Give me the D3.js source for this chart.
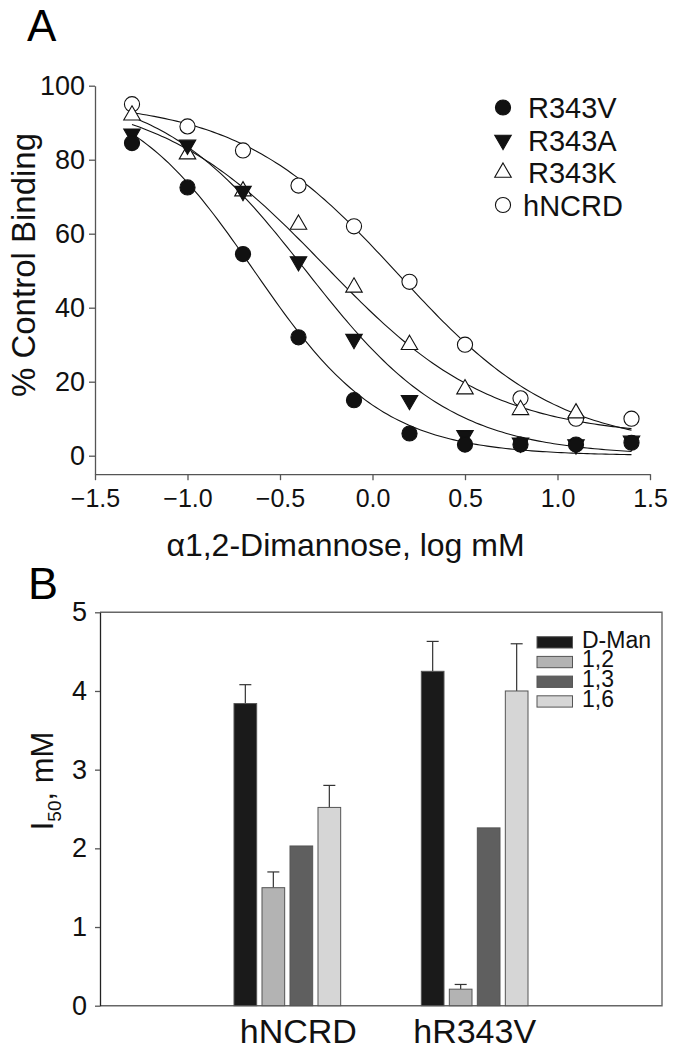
<!DOCTYPE html>
<html>
<head>
<meta charset="utf-8">
<script src="https://cdn.jsdelivr.net/npm/d3@7"></script>
<style>
  body { margin: 0; background: #fff; }
  svg { display: block; font-family: "Liberation Sans", Arial, sans-serif; }
</style>
</head>
<body>
<svg id="chart" width="678" height="1050"></svg>
<script>
// panel A: % control binding vs alpha1,2-dimannose (log mM)
const doseLog = [-1.3, -1.0, -0.7, -0.4, -0.1, 0.2, 0.5, 0.8, 1.1, 1.4]
const bindR343V = [84.5, 72.5, 54.5, 32, 15, 6, 3, 3, 3, 3.5]
const bindR343A = [87, 84, 71.5, 52.5, 31.5, 15, 5.5, 3.5, 3, 4]
const bindR343K = [92, 81.5, 71.5, 62.5, 45.5, 30, 18, 12.4, 11.5, null]
const bindHNCRD = [95, 89, 82.5, 73, 62, 47, 30, 15.5, 10, 10]
const seriesNames = ["R343V", "R343A", "R343K", "hNCRD"]

// fitted curves as drawn in the figure: top, bottom, log IC50, hill slope
const fitTop = [100, 100, 98, 96]
const fitBottom = [0, 0, 5, 2]
const fitLogIC50 = [-0.64, -0.36, -0.26, 0.14]
const fitHill = [1.25, 1.1, 0.96, 1.0]

const xTicksA = [-1.5, -1.0, -0.5, 0, 0.5, 1.0, 1.5]
const yTicksA = [0, 20, 40, 60, 80, 100]

// panel B: I50 (mM) per construct and sugar
const constructs = ["hNCRD", "hR343V"]
const sugars = ["D-Man", "1,2", "1,3", "1,6"]
const i50HNCRD = [3.84, 1.50, 2.03, 2.52]
const i50HR343V = [4.25, 0.21, 2.26, 4.00]
const errHNCRD = [0.24, 0.20, 0, 0.28]
const errHR343V = [0.38, 0.06, 0, 0.60]
const sugarColors = ["#1a1a1a", "#b3b3b3", "#5f5f5f", "#d6d6d6"]
const yTicksB = [0, 1, 2, 3, 4, 5]

const svg = d3.select("#chart")
const FONT = "\"Liberation Sans\", Arial, sans-serif"

function styleAxis (g, size) {
  g.attr("font-size", size).attr("font-family", FONT)
  g.selectAll("path, line").attr("stroke", "#555").attr("stroke-width", 1.3)
  g.selectAll("text").attr("fill", "#111")
}

function drawPanelA () {
  const x = d3.scaleLinear().domain([-1.5, 1.5]).range([95, 650])
  const y = d3.scaleLinear().domain([-5, 100]).range([474.2, 85.7])

  svg.append("text")
    .attr("x", 27).attr("y", 41)
    .attr("font-size", 44)
    .text("A")

  const xAxis = svg.append("g")
    .attr("transform", `translate(0,${y(-5)})`)
    .call(d3.axisBottom(x).tickValues(xTicksA).tickFormat(d3.format(".1f"))
      .tickSize(6).tickSizeOuter(0).tickPadding(9))
  styleAxis(xAxis, 25)

  const yAxis = svg.append("g")
    .attr("transform", `translate(${x(-1.5)},0)`)
    .call(d3.axisLeft(y).tickValues(yTicksA).tickSize(6).tickSizeOuter(0).tickPadding(4))
  styleAxis(yAxis, 27)

  svg.append("text")
    .attr("transform", "translate(35,265) rotate(-90)")
    .attr("text-anchor", "middle")
    .attr("font-size", 33)
    .attr("fill", "#111")
    .text("% Control Binding")

  svg.append("text")
    .attr("x", x(0) - 27).attr("y", 556)
    .attr("text-anchor", "middle")
    .attr("font-size", 32)
    .attr("fill", "#111")
    .text("α1,2-Dimannose, log mM")

  // fit lines
  const curveX = d3.range(doseLog[0], doseLog[doseLog.length - 1] + 0.001, 0.02)
  const line = d3.line().x((d) => x(d[0])).y((d) => y(d[1]))
  seriesNames.forEach((name, i) => {
    const pts = curveX.map((v) => [v,
      fitBottom[i] + (fitTop[i] - fitBottom[i]) / (1 + Math.pow(10, (v - fitLogIC50[i]) * fitHill[i]))])
    svg.append("path")
      .attr("d", line(pts))
      .attr("fill", "none")
      .attr("stroke", "#111")
      .attr("stroke-width", 1.1)
  })

  const allSeries = [bindR343V, bindR343A, bindR343K, bindHNCRD]
  const symbolFor = [
    {type: d3.symbolCircle, size: 180, rot: 0, fill: "#111"},
    {type: d3.symbolTriangle, size: 118, rot: 180, fill: "#111"},
    {type: d3.symbolTriangle, size: 118, rot: 0, fill: "#fff"},
    {type: d3.symbolCircle, size: 180, rot: 0, fill: "#fff"}
  ]

  // draw open markers first so the filled ones sit on top
  for (let i = allSeries.length - 1; i >= 0; i--) {
    const s = symbolFor[i]
    const pts = doseLog.map((d, j) => [d, allSeries[i][j]]).filter((d) => d[1] != null)
    svg.append("g").selectAll("path")
      .data(pts)
      .enter().append("path")
      .attr("d", d3.symbol().type(s.type).size(s.size))
      .attr("transform", (d) => `translate(${x(d[0])},${y(d[1])}) rotate(${s.rot})`)
      .attr("fill", s.fill)
      .attr("stroke", "#111")
      .attr("stroke-width", 1.1)
  }

  // legend
  const legend = svg.append("g")
  seriesNames.forEach((name, i) => {
    const s = symbolFor[i]
    const rowY = 107.5 + i * 32.5
    legend.append("path")
      .attr("d", d3.symbol().type(s.type).size(s.size))
      .attr("transform", `translate(503,${rowY}) rotate(${s.rot})`)
      .attr("fill", s.fill)
      .attr("stroke", "#111")
      .attr("stroke-width", 1.1)
    legend.append("text")
      .attr("x", i === 3 ? 523 : 528).attr("y", rowY + 10.5)
      .attr("font-size", 29)
      .attr("fill", "#111")
      .text(name)
  })
}

function drawPanelB () {
  const left = 100
  const right = 662
  const x0 = d3.scaleBand().domain(constructs).range([left, right])
    .paddingInner(0).paddingOuter(0.5)
  const x1 = d3.scaleBand().domain(sugars).range([-56, 56])
    .paddingInner(0.19).paddingOuter(0.095)
  const y = d3.scaleLinear().domain([0, 5]).range([1005.7, 612.3])

  svg.append("text")
    .attr("x", 28).attr("y", 599)
    .attr("font-size", 45)
    .text("B")

  // frame
  svg.append("path")
    .attr("d", `M${left},${y(5)}H${right}V${y(0)}H${left}`)
    .attr("fill", "none")
    .attr("stroke", "#666")
    .attr("stroke-width", 1.4)

  const yAxis = svg.append("g")
    .attr("transform", `translate(${left},0)`)
    .call(d3.axisLeft(y).tickValues(yTicksB).tickFormat(d3.format("d"))
      .tickSize(5).tickSizeOuter(0).tickPadding(8))
  styleAxis(yAxis, 27)
  yAxis.select(".domain").attr("stroke", "#222")

  const title = svg.append("text")
    .attr("transform", "translate(53,781) rotate(-90)")
    .attr("text-anchor", "middle")
    .attr("font-size", 31)
    .attr("fill", "#111")
  title.append("tspan").text("I")
  title.append("tspan").attr("font-size", 19).attr("dy", 8).text("50")
  title.append("tspan").attr("dy", -8).text(", mM")

  const values = [i50HNCRD, i50HR343V]
  const errors = [errHNCRD, errHR343V]
  const rows = []
  constructs.forEach((c, ci) => {
    sugars.forEach((s, si) => {
      rows.push({construct: c, sugar: s, value: values[ci][si], err: errors[ci][si], color: sugarColors[si]})
    })
  })

  const groupCenter = (c) => x0(c) + x0.bandwidth() / 2

  // error bars behind the bars
  const errRows = rows.filter((d) => d.err > 0)
  const errG = svg.append("g").attr("stroke", "#333").attr("stroke-width", 1.2)
  errRows.forEach((d) => {
    const cx = groupCenter(d.construct) + x1(d.sugar) + x1.bandwidth() / 2
    errG.append("line")
      .attr("x1", cx).attr("x2", cx)
      .attr("y1", y(d.value)).attr("y2", y(d.value + d.err))
    errG.append("line")
      .attr("x1", cx - 6).attr("x2", cx + 6)
      .attr("y1", y(d.value + d.err)).attr("y2", y(d.value + d.err))
  })

  svg.append("g").selectAll("rect")
    .data(rows)
    .enter().append("rect")
    .attr("x", (d) => groupCenter(d.construct) + x1(d.sugar))
    .attr("width", x1.bandwidth())
    .attr("y", (d) => y(d.value))
    .attr("height", (d) => y(0) - y(d.value))
    .attr("fill", (d) => d.color)
    .attr("stroke", "#555")
    .attr("stroke-width", 1)

  svg.append("g").selectAll("text")
    .data(constructs)
    .enter().append("text")
    .attr("x", (d, i) => groupCenter(d) + (i === 0 ? 11 : 0))
    .attr("y", 1043)
    .attr("text-anchor", "middle")
    .attr("font-size", 34)
    .attr("fill", "#111")
    .text((d) => d)

  // legend
  const legend = svg.append("g")
  sugars.forEach((s, i) => {
    const top = 636.7 + i * 19.7
    legend.append("rect")
      .attr("x", 537).attr("y", top)
      .attr("width", 35.5).attr("height", 11.3)
      .attr("fill", sugarColors[i])
      .attr("stroke", "#555")
      .attr("stroke-width", 1)
    legend.append("text")
      .attr("x", 582).attr("y", top + 11)
      .attr("font-size", 23)
      .attr("fill", "#111")
      .text(s)
  })
}

drawPanelA()
drawPanelB()
</script>
</body>
</html>
